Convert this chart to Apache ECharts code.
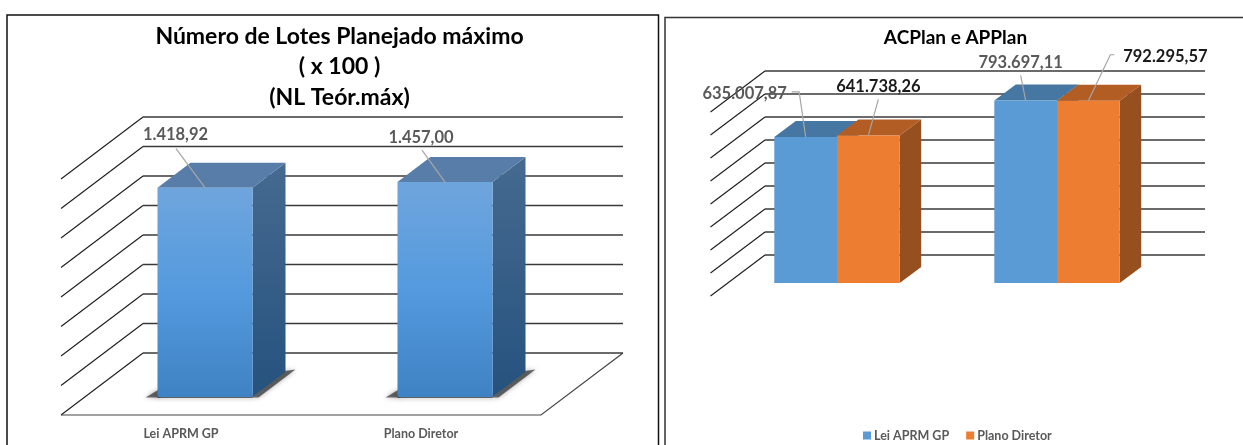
<!DOCTYPE html>
<html>
<head>
<meta charset="utf-8">
<style>
  html, body { margin: 0; padding: 0; background: #fff; overflow: hidden; }
  #chart { width: 1243px; height: 445px; }
</style>
<script src="https://cdn.jsdelivr.net/npm/echarts@6/dist/echarts.min.js"></script>
</head>
<body>
<div id="chart"></div>
<script>
// Values
const lotCategories = ['Lei APRM GP', 'Plano Diretor'];
const lotValues = [1418.92, 1457.00];
const lotTicks = [0, 200, 400, 600, 800, 1000, 1200, 1400, 1600];

const planCategories = ['ACPlan', 'APPlan'];
const planLeiValues = [635007.87, 793697.11];
const planDiretorValues = [641738.26, 792295.57];
const planTicks = [0, 100000, 200000, 300000, 400000, 500000, 600000, 700000, 800000];

const seriesNames = ['Lei APRM GP', 'Plano Diretor'];

// Oblique projection used to fake the 3D boxes
const lotView = { wallDx: 82, wallDy: 62, barDx: 24, barDy: 18, depthDx: 33, depthDy: 25, barRatio: 0.396 };
const planView = { wallDx: 54.5, wallDy: 41, barDx: 16.5, barDy: 13, depthDx: 21.5, depthDy: 16, barRatio: 0.285 };

const FONT = 'Lato, "Open Sans", sans-serif';
const fmt = v => v.toLocaleString('pt-BR', { minimumFractionDigits: 2, maximumFractionDigits: 2 });
const vGrad = (a, b, c) => new echarts.graphic.LinearGradient(0, 0, 0, 1,
  c ? [{ offset: 0, color: a }, { offset: 0.5, color: b }, { offset: 1, color: c }]
    : [{ offset: 0, color: a }, { offset: 1, color: b }]);

// Back wall, side wall and (optionally) floor outline for one tick value
function wallRenderer(view, withFloor) {
  return function (params, api) {
    const cs = params.coordSys;
    const y = api.coord([0, api.value(0)])[1];
    const x0 = cs.x, x1 = cs.x + cs.width;
    const kids = [{
      type: 'polyline',
      shape: { points: [[x0, y], [x0 + view.wallDx, y - view.wallDy]] },
      style: { stroke: '#1c1c1c', lineWidth: 1.1, fill: null }
    }, {
      type: 'line',
      shape: { x1: x0 + view.wallDx, y1: y - view.wallDy, x2: x1 + view.wallDx, y2: y - view.wallDy },
      style: { stroke: '#3a3a3a', lineWidth: 1.6 }
    }];
    if (withFloor && api.value(0) === 0) {
      kids.push({
        type: 'polyline',
        shape: { points: [[x0, y], [x1, y], [x1 + view.wallDx, y - view.wallDy]] },
        style: { stroke: '#444', lineWidth: 1.2, fill: null }
      });
    }
    return { type: 'group', children: kids };
  };
}

// Soft contact shadow around the foot of a box
function contactShadow(xl, xr, yb, dx, dy) {
  const soft = { fill: 'rgba(0,0,0,0.55)', shadowColor: 'rgba(0,0,0,0.6)', shadowBlur: 5 };
  return [{
    type: 'polygon',
    shape: { points: [[xl - 12, yb + 0.5], [xl + 2, yb + 0.5], [xl + 2, yb - 8]] },
    style: soft
  }, {
    type: 'polygon',
    shape: { points: [[xr - 1, yb + 0.5], [xr + dx - 1, yb - dy - 1], [xr + dx + 10, yb - dy - 2.5], [xr + 6, yb + 0.5]] },
    style: soft
  }, {
    type: 'rect',
    shape: { x: xl, y: yb - 2, width: xr - xl, height: 3 },
    style: soft
  }];
}

// One oblique box plus its value label and leader line
function boxRenderer(view, look, slot, slots) {
  return function (params, api) {
    const idx = api.value(0), val = api.value(1);
    const band = api.size([1, 0])[0];
    const w = band * view.barRatio;
    const centre = api.coord([idx, 0]);
    const top = api.coord([idx, val]);
    const xl = centre[0] + view.barDx - w * slots / 2 + w * slot;
    const xr = xl + w;
    const yb = centre[1] - view.barDy;
    const yt = top[1] - view.barDy;
    const dx = view.depthDx, dy = view.depthDy;
    const kids = look.shadow ? contactShadow(xl, xr, yb, dx, dy) : [];
    kids.push({
      type: 'polygon',
      shape: { points: [[xr, yt], [xr + dx, yt - dy], [xr + dx, yb - dy], [xr, yb]] },
      style: { fill: look.side }
    }, {
      type: 'polygon',
      shape: { points: [[xl, yt], [xl + dx, yt - dy], [xr + dx, yt - dy], [xr, yt]] },
      style: { fill: look.top }
    }, {
      type: 'rect',
      shape: { x: xl, y: yt, width: w, height: yb - yt },
      style: { fill: look.front }
    });
    // Leader line runs from the label down to the middle of the top front edge
    const ax = (xl + xr) / 2;
    const lab = look.labels[idx];
    const pts = lab.elbow
      ? [[ax + lab.lx, yt + lab.ly], [ax + lab.ex, yt + lab.ly], [ax, yt]]
      : [[ax + lab.lx, yt + lab.ly], [ax, yt]];
    kids.push({
      type: 'polyline',
      shape: { points: pts },
      style: { stroke: '#a6a6a6', lineWidth: 1.2, fill: null }
    }, {
      type: 'text',
      style: {
        text: fmt(val), x: ax + lab.tx, y: yt + lab.ty,
        align: 'center', verticalAlign: 'middle',
        fill: look.labelColor, font: look.labelFont
      }
    });
    return { type: 'group', children: kids };
  };
}

const lotLook = {
  shadow: true,
  front: vGrad('#6fa5dd', '#549ade', '#3f82c4'),
  side: vGrad('#466a90', '#25527e'),
  top: '#587da8',
  labelColor: '#595959',
  labelFont: 'bold 16.5px ' + FONT,
  labels: [
    { lx: -29, ly: -39, tx: -29.5, ty: -53 },
    { lx: -23, ly: -32, tx: -24, ty: -44 }
  ]
};
const planLeiLook = {
  front: '#5b9bd5', side: '#4676a2', top: '#4676a2',
  labelColor: '#595959',
  labelFont: 'bold 16.5px ' + FONT,
  labels: [
    { elbow: true, lx: -14, ly: -45, ex: -6.5, tx: -61, ty: -43 },
    { lx: -5, ly: -25, tx: -5, ty: -38 }
  ]
};
const planDiretorLook = {
  front: '#ed7d31', side: '#964f1e', top: '#b15d24',
  labelColor: '#1a1a1a',
  labelFont: 'bold 16.5px ' + FONT,
  labels: [
    { lx: 10, ly: -36, tx: 10, ty: -49 },
    { elbow: true, lx: 26, ly: -46, ex: 22, tx: 77, ty: -44 }
  ]
};

const titleStyle = size => ({ fontFamily: FONT, fontWeight: 'bold', fontSize: size, color: '#000' });

const chart = echarts.init(document.getElementById('chart'));
chart.setOption({
  animation: false,
  backgroundColor: '#fff',
  title: [
    { text: 'Número de Lotes Planejado máximo', left: 334.5, top: 32, textAlign: 'center', textVerticalAlign: 'middle', textStyle: titleStyle(23) },
    { text: '( x 100 )', left: 334.5, top: 62, textAlign: 'center', textVerticalAlign: 'middle', textStyle: titleStyle(23) },
    { text: '(NL Teór.máx)', left: 334.5, top: 93, textAlign: 'center', textVerticalAlign: 'middle', textStyle: titleStyle(23) },
    { text: 'ACPlan e APPlan', left: 950.5, top: 33, textAlign: 'center', textVerticalAlign: 'middle', textStyle: titleStyle(19) }
  ],
  legend: {
    data: seriesNames, left: 858, top: 424, itemWidth: 8, itemHeight: 8, itemGap: 17, icon: 'rect',
    textStyle: { color: '#595959', fontFamily: FONT, fontSize: 12.5, fontWeight: 'bold', padding: [0, 0, 0, -2] }
  },
  grid: [
    { left: 61, width: 480, top: 179, height: 236 },
    { left: 710.5, width: 440, top: 112, height: 184 }
  ],
  xAxis: [
    { gridIndex: 0, type: 'category', data: lotCategories, axisTick: { show: false }, axisLine: { show: false },
      axisLabel: { margin: 12, color: '#595959', fontFamily: FONT, fontSize: 12.5, fontWeight: 'bold' } },
    { gridIndex: 1, type: 'category', data: planCategories, show: false }
  ],
  yAxis: [
    { gridIndex: 0, type: 'value', min: 0, max: 1600, interval: 200, show: false },
    { gridIndex: 1, type: 'value', min: 0, max: 800000, interval: 100000, show: false }
  ],
  series: [
    { type: 'custom', name: 'lot-walls', xAxisIndex: 0, yAxisIndex: 0, silent: true,
      data: lotTicks.map(t => [t]), encode: { y: 0 }, renderItem: wallRenderer(lotView, true) },
    { type: 'custom', name: 'Número de Lotes', xAxisIndex: 0, yAxisIndex: 0,
      data: lotValues.map((v, i) => [i, v]), encode: { x: 0, y: 1 },
      renderItem: boxRenderer(lotView, lotLook, 0, 1) },
    { type: 'custom', name: 'plan-walls', xAxisIndex: 1, yAxisIndex: 1, silent: true,
      data: planTicks.map(t => [t]), encode: { y: 0 }, renderItem: wallRenderer(planView, false) },
    { type: 'custom', name: seriesNames[0], xAxisIndex: 1, yAxisIndex: 1, itemStyle: { color: '#5b9bd5' },
      data: planLeiValues.map((v, i) => [i, v]), encode: { x: 0, y: 1 },
      renderItem: boxRenderer(planView, planLeiLook, 0, 2) },
    { type: 'custom', name: seriesNames[1], xAxisIndex: 1, yAxisIndex: 1, itemStyle: { color: '#ed7d31' },
      data: planDiretorValues.map((v, i) => [i, v]), encode: { x: 0, y: 1 },
      renderItem: boxRenderer(planView, planDiretorLook, 1, 2) }
  ],
  graphic: [
    { type: 'rect', silent: true, shape: { x: 7, y: 15, width: 651.5, height: 460 },
      style: { fill: null, stroke: '#111', lineWidth: 1.5 } },
    { type: 'rect', silent: true, shape: { x: 665, y: 17.5, width: 620, height: 460 },
      style: { fill: null, stroke: '#333', lineWidth: 1.5 } }
  ]
});
</script>
</body>
</html>
